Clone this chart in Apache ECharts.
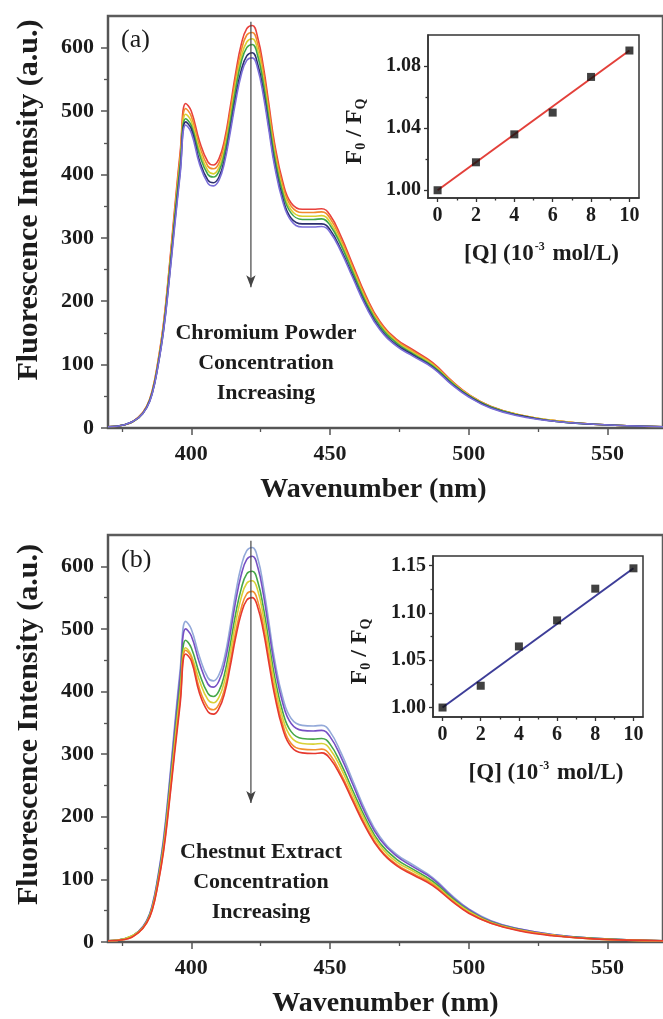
<!DOCTYPE html>
<html>
<head>
<meta charset="utf-8">
<script src="https://cdn.jsdelivr.net/npm/echarts@6/dist/echarts.min.js"></script>
<style>
html, body { margin: 0; padding: 0; background: #fff; }
#chart { width: 663px; height: 1019px; }
</style>
</head>
<body>
<div id="chart"></div>
<script>
// Emission wavelengths (nm) shared by every spectrum
const wavelength = [370,376,381,384,386,388,390,392,394,396,398,400,403,406,408,410,412,414,416,418,420,422,424,426,428,430,433,436,440,444,447,450,454,458,463,468,474,480,487,494,500,508,518,530,545,570];

// (a) spectra, quencher concentration rising from a0 to a5
const a0 = [2,5,17,35,60,105,165,250,345,435,512,500,452,420,415,425,455,505,560,605,630,635,615,570,510,450,388,355,345,345,346,336,302,260,208,168,140,123,103,74,53,34,21,12,6,2];
const a1 = [2,5,17,34,59,103,162,246,339,428,504,492,445,413,409,418,448,497,551,595,620,624,605,561,502,443,382,350,340,340,341,331,297,256,205,166,138,121,101,73,52,34,21,12,6,2];
const a2 = [2,5,16,34,58,102,160,242,334,421,495,484,437,406,401,411,440,488,542,585,609,614,595,551,493,435,375,344,334,334,335,325,292,252,201,163,136,119,100,72,52,33,21,12,6,2];
const a3 = [2,5,16,33,57,100,157,238,329,415,488,477,431,400,396,405,434,481,534,577,600,605,586,543,486,429,370,339,329,329,330,320,288,248,198,161,134,117,98,71,51,33,20,11,6,2];
const a4 = [2,5,16,33,56,98,154,233,322,405,483,472,421,391,387,396,424,471,522,564,587,592,573,531,475,419,362,331,322,322,322,313,281,242,194,157,131,115,96,69,50,32,20,11,6,2];
const a5 = [2,5,16,32,55,97,152,230,317,400,478,466,416,386,382,391,419,465,515,557,580,584,566,524,469,414,357,327,317,317,318,309,278,239,191,155,129,113,95,68,49,31,19,11,6,2];

// (b) spectra, quencher concentration rising from b0 to b5
const b0 = [2,5,17,35,60,105,165,250,345,435,512,500,455,422,417,427,455,503,557,600,625,630,612,568,510,452,390,357,346,345,346,336,302,260,208,168,140,123,103,74,53,34,21,12,6,2];
const b1 = [2,5,17,34,59,103,161,244,337,425,500,489,445,412,407,417,445,491,544,586,611,616,598,555,498,442,381,349,338,337,338,328,295,254,203,164,137,120,101,72,52,33,21,12,6,2];
const b2 = [2,5,16,33,56,99,155,235,324,409,482,470,428,397,392,401,428,473,524,564,588,592,575,534,479,425,367,336,325,324,325,316,284,244,196,158,132,116,97,70,50,32,20,11,6,2];
const b3 = [2,5,16,32,55,96,151,229,316,398,470,458,417,387,382,391,417,461,510,550,573,577,561,520,467,414,357,327,317,316,317,308,277,238,191,154,128,113,94,68,49,31,19,11,5,2];
const b4 = [2,4,15,31,53,93,147,222,307,387,466,455,404,375,371,380,404,447,495,533,556,560,544,505,453,402,347,317,308,307,308,299,268,231,185,149,124,109,92,66,47,30,19,11,5,2];
const b5 = [2,4,15,31,52,92,144,218,301,380,460,449,397,368,364,373,397,439,486,524,546,550,534,496,445,395,340,312,302,301,302,293,264,227,182,147,122,107,90,65,46,30,18,10,5,2];

// Stern-Volmer insets
const concQ = [0, 2, 4, 6, 8, 10];
const ratioA = [1.000, 1.018, 1.036, 1.050, 1.073, 1.090];
const ratioB = [1.000, 1.023, 1.0645, 1.092, 1.1255, 1.147];
const fitQ = [0, 10];
const fitA = [1.000, 1.090];
const fitB = [1.000, 1.147];

// Tick positions
const xMajor = [400, 450, 500, 550];
const xMinor = [375, 425, 475, 525];
const yMajor = [0, 100, 200, 300, 400, 500, 600];
const yMinor = [50, 150, 250, 350, 450, 550];
const qMajor = [0, 2, 4, 6, 8, 10];
const qMinor = [1, 3, 5, 7, 9];
const insetAMajor = [1.00, 1.04, 1.08];
const insetAMinor = [1.02, 1.06];
const insetBMajor = [1.00, 1.05, 1.10, 1.15];
const insetBMinor = [1.025, 1.075, 1.125];

// Arrow marking decreasing intensity (wavelength, intensity)
const arrowX = [421.5, 421.5];
const arrowY = [641, 222];

const coloursA = ['#e8413c', '#f18a2e', '#d9cf2e', '#3fa64a', '#2b2f70', '#7a6ed8'];
const coloursB = ['#93a9d9', '#7650c4', '#45a747', '#d8d136', '#f2902e', '#e6392f'];

const serif = "'Liberation Serif', 'Times New Roman', 'DejaVu Serif', serif";
const ink = '#1c1c1c';
const pairs = (xs, ys) => xs.map((x, i) => [x, ys[i]]);

function minorAxis(gridIndex, min, max, values, position, length, colour) {
  return {
    type: 'value', gridIndex, min, max, position,
    axisLine: { show: false, onZero: false },
    axisTick: { show: true, inside: false, length, customValues: values, lineStyle: { color: colour, width: 1.3 } },
    axisLabel: { show: false }, splitLine: { show: false }
  };
}

// shift > 0 nudges a title toward the axis end, shift < 0 toward its start
const shiftPad = shift => [0, Math.max(0, -shift) * 2, 0, Math.max(0, shift) * 2];

function spectrumAxes(gridIndex, xShift, yShift) {
  const x = [{
    type: 'value', gridIndex, min: 370, max: 570, position: 'bottom',
    axisLine: { show: true, onZero: false, lineStyle: { color: '#555', width: 2 } },
    axisTick: { show: true, inside: false, length: 7, customValues: xMajor, lineStyle: { color: '#555', width: 1.5 } },
    axisLabel: { customValues: xMajor, margin: 15, color: ink, fontFamily: serif, fontWeight: 'bold', fontSize: 22 },
    splitLine: { show: false },
    name: 'Wavenumber (nm)', nameLocation: 'middle', nameGap: 48,
    nameTextStyle: { color: ink, fontFamily: serif, fontWeight: 'bold', fontSize: 28, padding: shiftPad(xShift) }
  }, minorAxis(gridIndex, 370, 570, xMinor, 'bottom', 4, '#555')];
  const y = [{
    type: 'value', gridIndex, min: 0, max: 650, position: 'left',
    axisLine: { show: true, onZero: false, lineStyle: { color: '#555', width: 2 } },
    axisTick: { show: true, inside: false, length: 7, customValues: yMajor, lineStyle: { color: '#555', width: 1.5 } },
    axisLabel: { customValues: yMajor, margin: 14, color: ink, fontFamily: serif, fontWeight: 'bold', fontSize: 22 },
    splitLine: { show: false },
    name: 'Fluorescence Intensity (a.u.)', nameLocation: 'middle', nameGap: 64,
    nameTextStyle: { color: ink, fontFamily: serif, fontWeight: 'bold', fontSize: 30, padding: shiftPad(yShift) }
  }, minorAxis(gridIndex, 0, 650, yMinor, 'left', 4, '#555')];
  return { x, y };
}

function insetAxes(gridIndex, yMin, yMax, major, minor) {
  const x = [{
    type: 'value', gridIndex, min: -0.5, max: 10.5, position: 'bottom',
    axisLine: { show: true, onZero: false, lineStyle: { color: '#333', width: 1.5 } },
    axisTick: { show: true, length: 4, customValues: qMajor, lineStyle: { color: '#333', width: 1.3 } },
    axisLabel: { customValues: qMajor, margin: 8, color: ink, fontFamily: serif, fontWeight: 'bold', fontSize: 20 },
    splitLine: { show: false },
    name: '{t|[Q] (10}{s|-3}{t| mol/L)}', nameLocation: 'middle', nameGap: 43,
    nameTextStyle: {
      padding: shiftPad(8),
      rich: {
        t: { color: ink, fontFamily: serif, fontWeight: 'bold', fontSize: 23 },
        s: { color: ink, fontFamily: serif, fontWeight: 'bold', fontSize: 12, padding: [0, 2, 15, 1] }
      }
    }
  }, minorAxis(gridIndex, -0.5, 10.5, qMinor, 'bottom', 2.5, '#333')];
  const y = [{
    type: 'value', gridIndex, min: yMin, max: yMax, position: 'left',
    axisLine: { show: true, onZero: false, lineStyle: { color: '#333', width: 1.5 } },
    axisTick: { show: true, length: 4, customValues: major, lineStyle: { color: '#333', width: 1.3 } },
    axisLabel: { customValues: major, margin: 7, color: ink, fontFamily: serif, fontWeight: 'bold', fontSize: 20,
      formatter: v => v.toFixed(2) },
    splitLine: { show: false },
    name: '{t|F}{s|0}{t| / F}{s|Q}', nameLocation: 'middle', nameGap: 60,
    nameTextStyle: {
      padding: shiftPad(-15),
      rich: {
        t: { color: ink, fontFamily: serif, fontWeight: 'bold', fontSize: 24 },
        s: { color: ink, fontFamily: serif, fontWeight: 'bold', fontSize: 14, padding: [13, 0, 0, 0] }
      }
    }
  }, minorAxis(gridIndex, yMin, yMax, minor, 'left', 2.5, '#333')];
  return { x, y };
}

const mainA = spectrumAxes(0, -12, 22);
const insetA = insetAxes(1, 0.995, 1.10, insetAMajor, insetAMinor);
const mainB = spectrumAxes(2, 0, 14);
const insetB = insetAxes(3, 0.99, 1.16, insetBMajor, insetBMinor);

function spectrumSeries(sets, colours, axisIdx) {
  return sets.map((ys, i) => ({
    type: 'line', xAxisIndex: axisIdx, yAxisIndex: axisIdx,
    data: pairs(wavelength, ys), smooth: 0.45,
    showSymbol: false, symbol: 'none',
    lineStyle: { color: colours[i], width: 1.6 }, z: 2 + i
  }));
}

function arrowSeries(axisIdx) {
  return {
    type: 'line', xAxisIndex: axisIdx, yAxisIndex: axisIdx, z: 20,
    data: [
      { value: [arrowX[0], arrowY[0]], symbol: 'none' },
      { value: [arrowX[1], arrowY[1]], symbol: 'arrow', symbolSize: [7, 12], symbolRotate: 180 }
    ],
    showSymbol: true,
    lineStyle: { color: '#444', width: 1.2 },
    itemStyle: { color: '#444' }
  };
}

function insetSeries(axisIdx, ratios, fit, lineColour) {
  return [{
    type: 'line', xAxisIndex: axisIdx, yAxisIndex: axisIdx,
    data: pairs(fitQ, fit), showSymbol: false, symbol: 'none',
    lineStyle: { color: lineColour, width: 2 }, z: 30
  }, {
    type: 'scatter', xAxisIndex: axisIdx, yAxisIndex: axisIdx,
    data: pairs(concQ, ratios), symbol: 'rect', symbolSize: 8,
    itemStyle: { color: '#111' }, z: 31
  }];
}

const annotationStyle = { fill: ink, fontFamily: serif, fontWeight: 'bold', fontSize: 22, align: 'center', lineHeight: 30 };

const option = {
  backgroundColor: '#fff',
  animation: false,
  grid: [
    { left: 108, top: 16, width: 564, height: 412, show: true, borderColor: '#5c5c5c', borderWidth: 2.5 },
    { left: 428, top: 35, width: 211, height: 163, show: true, borderColor: '#333', borderWidth: 1.5 },
    { left: 108, top: 535, width: 564, height: 412, show: true, borderColor: '#5c5c5c', borderWidth: 2.5 },
    { left: 433, top: 556, width: 210, height: 161, show: true, borderColor: '#333', borderWidth: 1.5 }
  ],
  xAxis: [...mainA.x, ...insetA.x, ...mainB.x, ...insetB.x],
  yAxis: [...mainA.y, ...insetA.y, ...mainB.y, ...insetB.y],
  series: [
    ...spectrumSeries([a0, a1, a2, a3, a4, a5], coloursA, 0),
    arrowSeries(0),
    ...insetSeries(2, ratioA, fitA, '#e3403a'),
    ...spectrumSeries([b0, b1, b2, b3, b4, b5], coloursB, 4),
    arrowSeries(4),
    ...insetSeries(6, ratioB, fitB, '#3d3d98')
  ],
  graphic: [
    { type: 'text', left: 121, top: 27, style: { text: '(a)', fill: ink, fontFamily: serif, fontSize: 26 } },
    { type: 'text', left: 121, top: 547, style: { text: '(b)', fill: ink, fontFamily: serif, fontSize: 26 } },
    { type: 'text', x: 266, y: 318, style: Object.assign({ text: 'Chromium Powder\nConcentration\nIncreasing' }, annotationStyle) },
    { type: 'text', x: 261, y: 837, style: Object.assign({ text: 'Chestnut Extract\nConcentration\nIncreasing' }, annotationStyle) }
  ]
};

const chart = echarts.init(document.getElementById('chart'));
chart.setOption(option);
</script>
</body>
</html>
